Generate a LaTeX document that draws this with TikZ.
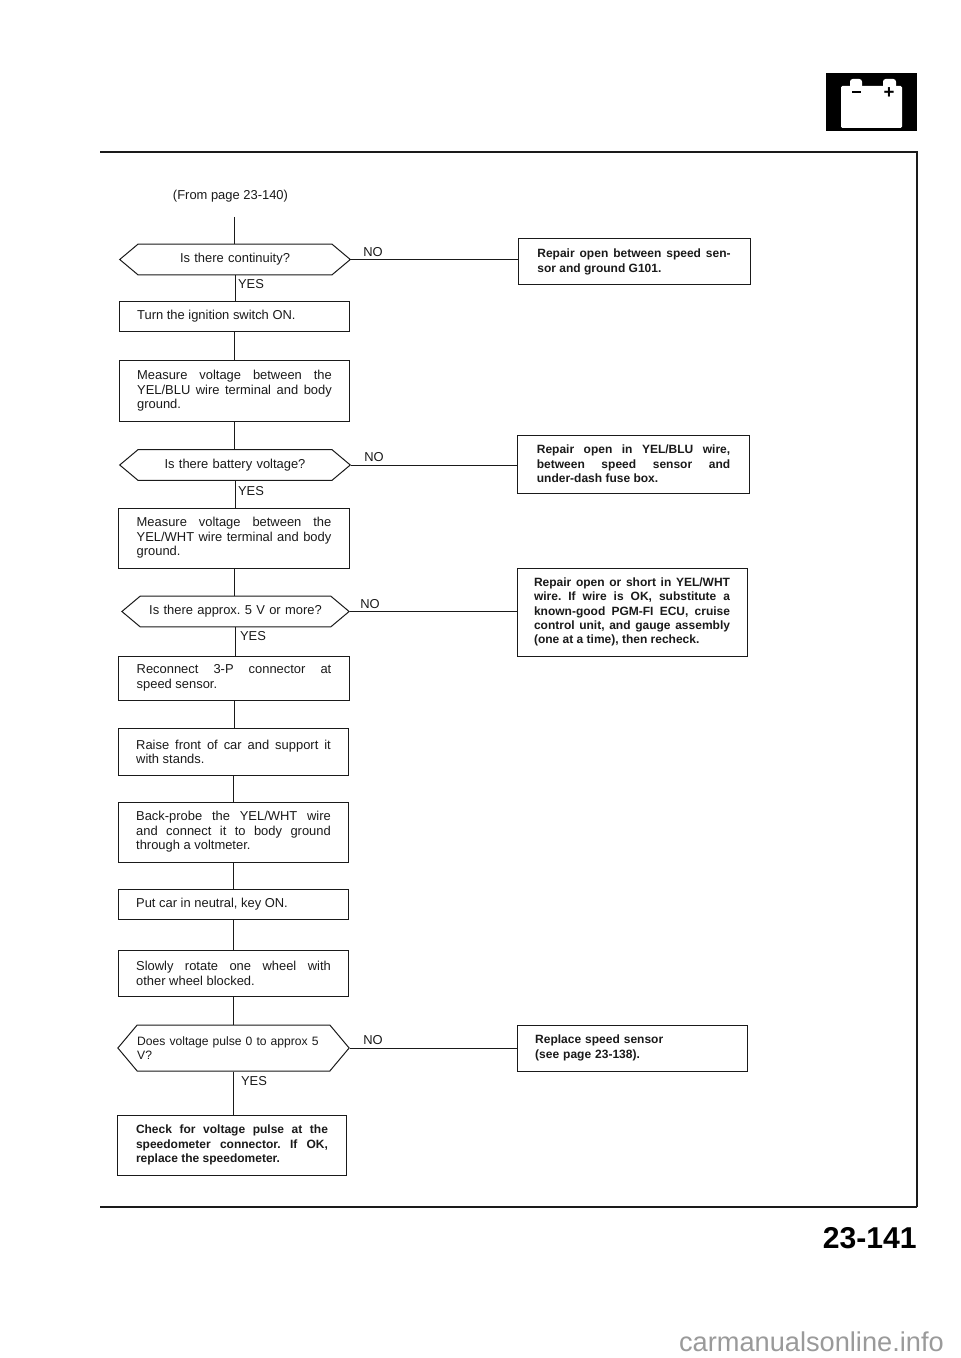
\documentclass[tikz,border=0pt]{standalone}
\usepackage{fontspec}
\setmainfont{Liberation Sans}
\usetikzlibrary{shapes.symbols}
\definecolor{scanBlack}{HTML}{1A1A1A}
\definecolor{siteGrey}{HTML}{9A9A9A}
\tikzset{
  flowLine/.style={draw=scanBlack,line width=0.75pt},
  stepBox/.style={flowLine,rectangle,align=justify,text width=146pt,inner xsep=13.5pt,inner ysep=0pt,
    font=\fontsize{9.7}{10.8}\selectfont,text=scanBlack},
  fixBox/.style={stepBox,text width=145pt,inner xsep=14.5pt,font=\fontsize{9}{10.8}\bfseries\selectfont},
  askBox/.style={flowLine,signal,signal to=west and east,signal pointer angle=80,inner ysep=0pt,inner xsep=0pt,
    text width=145.5pt,align=center,minimum height=23pt,font=\fontsize{9.7}{10.8}\selectfont,text=scanBlack},
  tagText/.style={font=\fontsize{9.7}{10.8}\selectfont,text=scanBlack,inner sep=0pt}
}
\begin{document}
\frenchspacing
\begin{tikzpicture}[x=0.75pt,y=-0.75pt]
\useasboundingbox (0,0) rectangle (960,1358);
\fill[white] (0,0) rectangle (960,1358);
\draw[scanBlack,line width=1pt] (100,152)--(917,152)--(917,1207);
\draw[scanBlack,line width=1.3pt] (917,1207)--(100,1207);
\fill[black] (826,73) rectangle (917,131);
\fill[white,rounded corners=1pt] (841,86) rectangle (902,128);
\fill[white,rounded corners=2pt] (850,79) rectangle (862,90);
\fill[white,rounded corners=2pt] (883,79) rectangle (896,90);
\fill[black] (852,91) rectangle (861,93);
\node[black,font=\fontsize{14}{14}\bfseries\selectfont,inner sep=0pt] (plusSign) at (889,93) {+};
\node[tagText] (fromPage) at (230.5,196) {(From page 23-140)};
\coordinate (topEnd) at (234,217);
\node[askBox] (askCont) at (235,259.5) {Is there continuity?};
\node[stepBox,minimum height=23pt] (turnOn) at (234.5,316.5) {Turn the ignition switch ON.};
\node[stepBox,minimum height=46pt] (measureBlu) at (234.5,391) {Measure voltage between the\linebreak YEL/BLU wire terminal and body\linebreak ground.};
\node[askBox] (askBatt) at (235,465) {Is there battery voltage?};
\node[stepBox,minimum height=45pt] (measureWht) at (234,538) {Measure voltage between the\linebreak YEL/WHT wire terminal and body\linebreak ground.};
\node[askBox,text width=143pt] (askFive) at (235.5,611.5) {Is there approx. 5 V or more?};
\node[stepBox,minimum height=33pt] (reconnect) at (234,678) {Reconnect 3-P connector at\linebreak speed sensor.};
\node[stepBox,minimum height=35pt] (raiseCar) at (233.5,752) {Raise front of car and support it\linebreak with stands.};
\node[stepBox,minimum height=45pt] (backProbe) at (233.5,832) {Back-probe the YEL/WHT wire\linebreak and connect it to body ground\linebreak through a voltmeter.};
\node[stepBox,minimum height=23pt] (neutral) at (233.5,904.5) {Put car in neutral, key ON.};
\node[stepBox,minimum height=35pt] (rotate) at (233.5,973.5) {Slowly rotate one wheel with\linebreak other wheel blocked.};
\node[askBox,text width=144.5pt,align=left,minimum height=34.5pt,signal pointer angle=100,font=\fontsize{9.1}{10.8}\selectfont] (askPulse) at (233.5,1048) {Does voltage pulse 0 to approx 5\\V?};
\node[stepBox,text width=144pt,inner xsep=14pt,minimum height=45pt,font=\fontsize{9}{10.8}\bfseries\selectfont] (checkPulse) at (232,1145) {Check for voltage pulse at the\linebreak speedometer connector. If OK,\linebreak replace the speedometer.};
\node[fixBox,minimum height=34.5pt] (fixGround) at (634,262) {Repair open between speed sen-\linebreak sor and ground G101.};
\node[fixBox,minimum height=43.5pt] (fixBlu) at (633.5,464) {Repair open in YEL/BLU wire,\linebreak between speed sensor and\linebreak under-dash fuse box.};
\node[fixBox,text width=147pt,inner xsep=12.75pt,minimum height=66pt] (fixWht) at (632,612) {Repair open or short in YEL/WHT\linebreak wire. If wire is OK, substitute a\linebreak known-good PGM-FI ECU, cruise\linebreak control unit, and gauge assembly\linebreak (one at a time), then recheck.};
\node[fixBox,text width=146pt,inner xsep=13.5pt,minimum height=34.5pt,align=left] (fixSensor) at (632.5,1048) {Replace speed sensor\\(see page 23-138).};
\draw[flowLine] (topEnd)--(topEnd |- askCont.north);
\draw[flowLine] (askCont.south)--(askCont.south |- turnOn.north);
\draw[flowLine] (turnOn.south)--(measureBlu.north);
\draw[flowLine] (measureBlu.south)--(measureBlu.south |- askBatt.north);
\draw[flowLine] (askBatt.south)--(askBatt.south |- measureWht.north);
\draw[flowLine] (measureWht.south)--(measureWht.south |- askFive.north);
\draw[flowLine] (askFive.south)--(askFive.south |- reconnect.north);
\draw[flowLine] (reconnect.south)--(reconnect.south |- raiseCar.north);
\draw[flowLine] (raiseCar.south)--(backProbe.north);
\draw[flowLine] (backProbe.south)--(neutral.north);
\draw[flowLine] (neutral.south)--(rotate.north);
\draw[flowLine] (rotate.south)--(askPulse.north);
\draw[flowLine] (askPulse.south)--(askPulse.south |- checkPulse.north);
\draw[flowLine] (askCont.east)--(askCont.east -| fixGround.west);
\draw[flowLine] (askBatt.east)--(askBatt.east -| fixBlu.west);
\draw[flowLine] (askFive.east)--(askFive.east -| fixWht.west);
\draw[flowLine] (askPulse.east)--(fixSensor.west);
\node[tagText] (yesCont) at (251,284) {YES};
\node[tagText] (yesBatt) at (251,491) {YES};
\node[tagText] (yesFive) at (253,636) {YES};
\node[tagText] (yesPulse) at (254,1081) {YES};
\node[tagText] (noCont) at (373,252) {NO};
\node[tagText] (noBatt) at (374,457) {NO};
\node[tagText] (noFive) at (370,604) {NO};
\node[tagText] (noPulse) at (373,1040) {NO};
\node[black,font=\fontsize{22.6}{23}\bfseries\selectfont,anchor=east,inner sep=0pt] (pageNum) at (917,1238) {23-141};
\node[siteGrey,font=\fontsize{20.4}{21}\selectfont,anchor=east,inner sep=0pt] (siteMark) at (944,1342) {carmanualsonline.info};
\end{tikzpicture}
\end{document}
